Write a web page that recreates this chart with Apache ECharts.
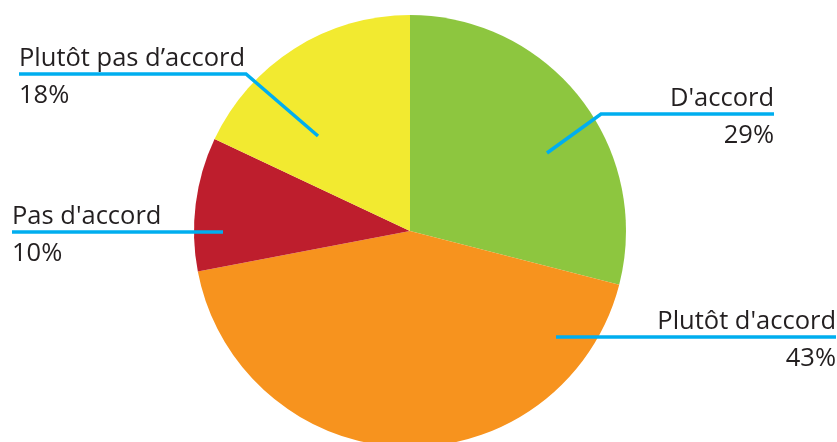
<!DOCTYPE html>
<html>
<head>
<meta charset="utf-8">
<script src="https://cdn.jsdelivr.net/npm/echarts@6/dist/echarts.min.js"></script>
<style>html,body{margin:0;padding:0;background:#fff}#c{width:837px;height:442px}</style>
</head>
<body>
<div id="c"></div>
<script>
var categories = ["D'accord", "Plutôt d'accord", "Pas d'accord", "Plutôt pas d’accord"];
var values = [29, 43, 10, 18];
var colors = ['#8DC63F', '#F7931E', '#BE1E2D', '#F2EA30'];

// layout: label anchor, align, line points
var layouts = [
  {x: 774, y: 114, align: 'right', pts: [[547,153],[601,114],[774,114]]},
  {x: 836, y: 337, align: 'right', pts: [[556,337],[836,337]]},
  {x: 12, y: 232, align: 'left', pts: [[223,232],[12,232]]},
  {x: 19, y: 74, align: 'left', pts: [[318,136],[246,74],[19,74]]}
];

var FS = 25.5;
var base = {
  type: 'pie',
  center: [410, 231],
  radius: 216,
  startAngle: 90,
  clockwise: true,
  avoidLabelOverlap: false,
  emphasis: {disabled: true},
  silent: true
};

var chart = echarts.init(document.getElementById('c'), null, {renderer: 'canvas'});
chart.setOption({
  animation: false,
  series: [
    Object.assign({}, base, {
      z: 2,
      data: categories.map(function (n, i) {
        return {name: n, value: values[i], itemStyle: {color: colors[i]}};
      }),
      label: {show: false},
      labelLine: {show: false}
    }),
    Object.assign({}, base, {
      z: 5,
      data: categories.map(function (n, i) {
        return {name: n, value: values[i], itemStyle: {color: 'rgba(0,0,0,0)'}};
      }),
      label: {
        show: true,
        position: 'outside',
        formatter: function (p) { return '{n|' + p.name + '}\n{p|' + p.value + '%}'; },
        rich: {
          n: {fontFamily: 'Open Sans', fontSize: FS, color: '#231F20', lineHeight: 31},
          p: {fontFamily: 'Open Sans', fontSize: FS, color: '#231F20', lineHeight: 44}
        }
      },
      labelLine: {show: true, lineStyle: {color: '#00AEEF', width: 3.5}},
      labelLayout: function (params) {
        var l = layouts[params.dataIndex];
        return {x: l.x, y: l.y - 31, align: l.align, verticalAlign: 'top', labelLinePoints: l.pts};
      }
    })
  ]
});
</script>
</body>
</html>
